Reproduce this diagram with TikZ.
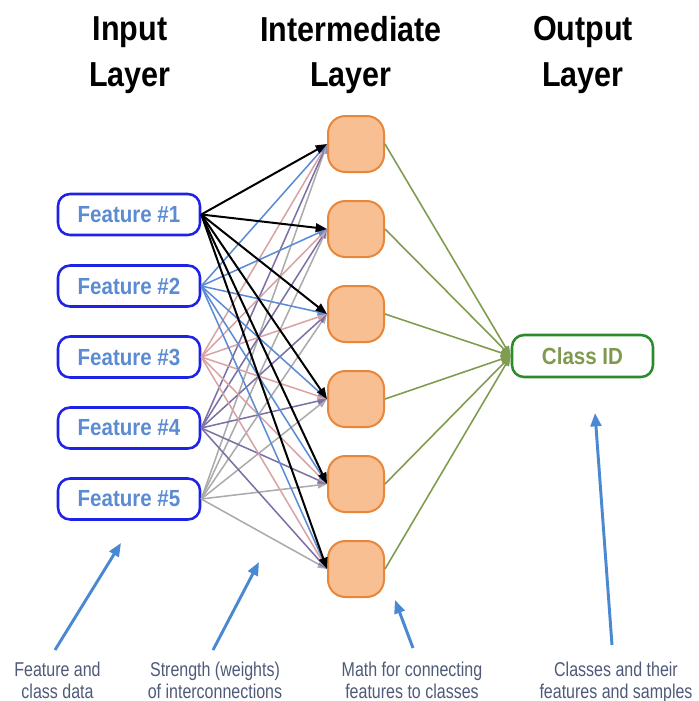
\documentclass[tikz,border=0pt]{standalone}
\usepackage{fontspec}
\setmainfont{Liberation Sans}[FakeStretch=0.88]
\newfontfamily\notefont{Liberation Sans}[FakeStretch=0.8]
\usetikzlibrary{arrows.meta}

\definecolor{featborder}{HTML}{1E22E6}
\definecolor{feattext}{HTML}{5B8BD2}
\definecolor{midfill}{HTML}{F8BF93}
\definecolor{midborder}{HTML}{E8873A}
\definecolor{classborder}{HTML}{2C8C2C}
\definecolor{classtext}{HTML}{7E9A4E}
\definecolor{greenedge}{HTML}{809C50}
\definecolor{wblue}{HTML}{5B8BD2}
\definecolor{wpink}{HTML}{D9A3A3}
\definecolor{wpurple}{HTML}{7D70A6}
\definecolor{wgray}{HTML}{ABABAB}
\definecolor{notetext}{HTML}{4E5A78}
\definecolor{notearrow}{HTML}{4A88D2}

\begin{document}
\begin{tikzpicture}[x=0.75pt,y=-0.75pt,
  title/.style={align=center,font=\fontsize{26}{34.2}\selectfont\bfseries},
  feat/.style={draw=featborder,line width=1.9pt,rounded corners=9pt,
    minimum width=106.5pt,minimum height=30.75pt,inner sep=0pt,
    text=feattext,font=\fontsize{17.5}{20}\selectfont\bfseries},
  midnode/.style={draw=midborder,fill=midfill,line width=1.5pt,
    rounded corners=13pt,minimum width=42pt,minimum height=42pt,inner sep=0pt},
  classnode/.style={draw=classborder,line width=1.9pt,rounded corners=9pt,
    minimum width=105.75pt,minimum height=31.5pt,inner sep=0pt,
    text=classtext,font=\fontsize{17.5}{20}\selectfont\bfseries},
  weight/.style={draw=#1,line width=1.15pt,-{Triangle[length=7pt,width=5pt]}},
  strong/.style={draw=black,line width=1.5pt,-{Triangle[length=8.5pt,width=6.5pt]}},
  outedge/.style={draw=greenedge,line width=1.2pt,-{Triangle[length=7.5pt,width=5.5pt]}},
  note/.style={align=center,text=notetext,font=\notefont\fontsize{15}{15}\selectfont},
  notearrow/.style={draw=notearrow,line width=2.2pt,-{Triangle[length=10pt,width=8pt]}}]

\useasboundingbox (0,0) rectangle (699,701);

% column headings
\node[title] (hin)  at (130,55) {Input\\Layer};
\node[title] (hmid) at (351,55) {Intermediate\\Layer};
\node[title] (hout) at (583,55) {Output\\Layer};

% input layer
\foreach \i/\y in {1/214.5,2/286,3/357,4/428,5/499}
  \node[feat] (f\i) at (129,\y) {Feature \#\i};

% intermediate layer
\foreach \j/\y in {1/144,2/229,3/314,4/399,5/484,6/569}
  \node[midnode] (m\j) at (356,\y) {};

% output layer
\node[classnode] (cls) at (582.5,356) {Class ID};

% weighted connections, input -> intermediate
\foreach \i/\c in {5/wgray,4/wpurple,3/wpink,2/wblue}
  \foreach \j in {1,...,6}
    \draw[weight=\c] (f\i.east) -- (m\j.west);
\foreach \j in {1,...,6}
  \draw[strong] (f1.east) -- (m\j.west);

% intermediate -> output
\foreach \j in {1,...,6}
  \draw[outedge] (m\j.east) -- (cls.west);

% captions
\node[note] (n1) at (57.5,683) {\strut Feature and\\\strut class data};
\node[note] (n2) at (215,683) {\strut Strength (weights)\\\strut of interconnections};
\node[note] (n3) at (412,683) {\strut Math for connecting\\\strut features to classes};
\node[note] (n4) at (616,683) {\strut Classes and their\\\strut features and samples};

% pointer arrows from captions
\coordinate (t1) at (55,650);  \coordinate (p1) at (121,543);
\coordinate (t2) at (213,650); \coordinate (p2) at (259,562);
\coordinate (t3) at (413,648); \coordinate (p3) at (395,600);
\coordinate (t4) at (612,645); \coordinate (p4) at (595,413);
\foreach \k in {1,...,4}
  \draw[notearrow] (t\k) -- (p\k);

\end{tikzpicture}
\end{document}
